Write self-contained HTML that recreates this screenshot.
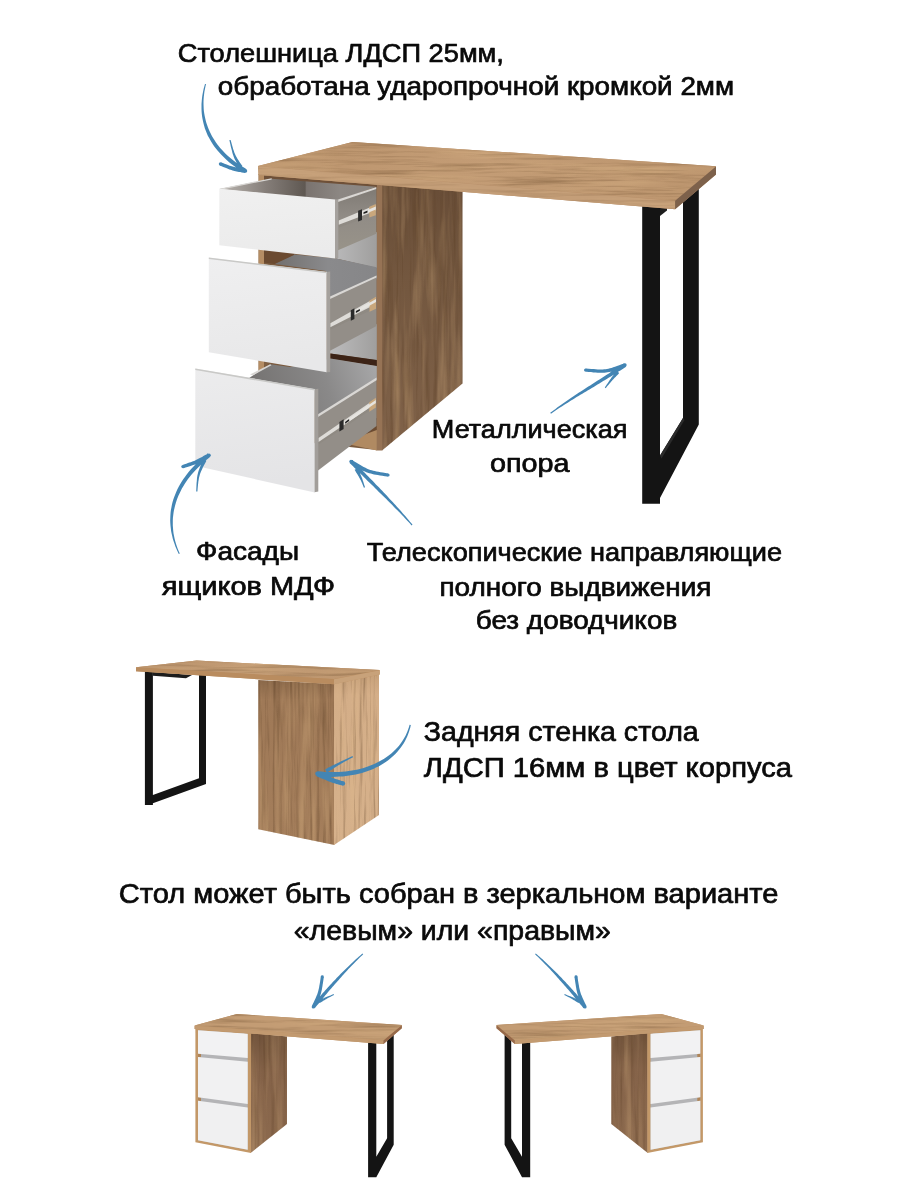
<!DOCTYPE html>
<html lang="ru"><head><meta charset="utf-8"><title>Стол</title>
<style>html,body{margin:0;padding:0;background:#fff}svg{display:block}text{white-space:pre}</style></head>
<body><svg width="900" height="1200" viewBox="0 0 900 1200">
<rect width="900" height="1200" fill="#fff"/>
<defs>
<linearGradient id="gTop" x1="0" y1="0" x2="1" y2="0"><stop offset="0" stop-color="#bb946d"/><stop offset="0.5" stop-color="#c39c75"/><stop offset="1" stop-color="#bc956e"/></linearGradient>
<linearGradient id="gSide" x1="0" y1="0" x2="0" y2="1"><stop offset="0" stop-color="#684d37"/><stop offset="0.35" stop-color="#73573f"/><stop offset="1" stop-color="#806249"/></linearGradient>
<linearGradient id="gBack" x1="0" y1="0" x2="0" y2="1"><stop offset="0" stop-color="#8a6849"/><stop offset="0.12" stop-color="#9f7957"/><stop offset="1" stop-color="#a47e5b"/></linearGradient>
<linearGradient id="gBack2" x1="0" y1="0" x2="0" y2="1"><stop offset="0" stop-color="#c7a17a"/><stop offset="0.12" stop-color="#d4ae88"/><stop offset="1" stop-color="#d6b18b"/></linearGradient>
<linearGradient id="gDr1" x1="0" y1="0" x2="0.15" y2="1"><stop offset="0" stop-color="#f0f0f0"/><stop offset="1" stop-color="#ebebeb"/></linearGradient>
<linearGradient id="gDr2" x1="0" y1="0" x2="0.15" y2="1"><stop offset="0" stop-color="#efeff0"/><stop offset="1" stop-color="#e8e8e9"/></linearGradient>
<linearGradient id="gDr3" x1="0" y1="0" x2="0.15" y2="1"><stop offset="0" stop-color="#ececed"/><stop offset="1" stop-color="#e4e4e6"/></linearGradient>
<linearGradient id="gSideS" x1="0" y1="0" x2="0" y2="1"><stop offset="0" stop-color="#73553d"/><stop offset="0.3" stop-color="#856349"/><stop offset="1" stop-color="#8c6a4e"/></linearGradient>
<linearGradient id="gInt3" gradientUnits="userSpaceOnUse" x1="262" y1="400" x2="376" y2="360"><stop offset="0" stop-color="#767473"/><stop offset="0.55" stop-color="#8a8989"/><stop offset="1" stop-color="#a8a8a9"/></linearGradient>
<linearGradient id="gInt1" gradientUnits="userSpaceOnUse" x1="225" y1="0" x2="376" y2="0"><stop offset="0" stop-color="#b5b0ab"/><stop offset="0.27" stop-color="#857e79"/><stop offset="0.53" stop-color="#5f5852"/><stop offset="0.54" stop-color="#7a736f"/><stop offset="0.76" stop-color="#8c8783"/><stop offset="1" stop-color="#8a8581"/></linearGradient>
<linearGradient id="gWH" gradientUnits="userSpaceOnUse" x1="332" y1="0" x2="376" y2="0"><stop offset="0" stop-color="#bbbbbc"/><stop offset="1" stop-color="#a09f9e"/></linearGradient>
<linearGradient id="gS1" gradientUnits="userSpaceOnUse" x1="0" y1="190" x2="0" y2="250"><stop offset="0" stop-color="#807b75"/><stop offset="0.45" stop-color="#918c86"/><stop offset="1" stop-color="#989389"/></linearGradient>
<linearGradient id="gInt" gradientUnits="userSpaceOnUse" x1="280" y1="0" x2="376" y2="0"><stop offset="0" stop-color="#747271"/><stop offset="0.5" stop-color="#8a8a8c"/><stop offset="1" stop-color="#868688"/></linearGradient>
<filter id="grain" x="0" y="0" width="100%" height="100%" color-interpolation-filters="sRGB"><feTurbulence type="fractalNoise" baseFrequency="0.012 0.3" numOctaves="4" seed="7" result="n"/><feColorMatrix in="n" type="matrix" values="0 0 0 0 0.40  0 0 0 0 0.28  0 0 0 0 0.16  2.4 0 0 0 -1.1"/><feComposite operator="in" in2="SourceGraphic"/></filter>
<filter id="grainL" x="0" y="0" width="100%" height="100%" color-interpolation-filters="sRGB"><feTurbulence type="fractalNoise" baseFrequency="0.009 0.12" numOctaves="3" seed="21" result="n"/><feColorMatrix in="n" type="matrix" values="0 0 0 0 0.92  0 0 0 0 0.78  0 0 0 0 0.58  0 2.4 0 0 -1.1"/><feComposite operator="in" in2="SourceGraphic"/></filter>
<filter id="grainV" x="0" y="0" width="100%" height="100%" color-interpolation-filters="sRGB"><feTurbulence type="fractalNoise" baseFrequency="0.3 0.012" numOctaves="4" seed="3" result="n"/><feColorMatrix in="n" type="matrix" values="0 0 0 0 0.36  0 0 0 0 0.25  0 0 0 0 0.15  2.4 0 0 0 -1.1"/><feComposite operator="in" in2="SourceGraphic"/></filter>
<filter id="grainVL" x="0" y="0" width="100%" height="100%" color-interpolation-filters="sRGB"><feTurbulence type="fractalNoise" baseFrequency="0.12 0.009" numOctaves="3" seed="33" result="n"/><feColorMatrix in="n" type="matrix" values="0 0 0 0 0.9  0 0 0 0 0.75  0 0 0 0 0.55  0 2.4 0 0 -1.1"/><feComposite operator="in" in2="SourceGraphic"/></filter>
</defs>
<polygon points="642.2,205.0 642.2,503.7 660.0,503.7 660.0,498.0 698.8,424.5 698.8,185.0 683.0,185.0 683.0,418.0 660.0,455.5 660.0,205.0" fill="#141414" />
<polygon points="660.0,455.5 683.0,418.0 684.5,420.0 661.5,458.5" fill="#2b2b2b" />
<polygon points="660.0,207.0 667.0,207.0 667.0,210.5 660.0,216.0" fill="#1d1d1d" />
<polygon points="382.0,184.0 462.5,190.0 462.5,383.5 382.0,450.5" fill="url(#gSide)" /><polygon points="382.0,184.0 462.5,190.0 462.5,383.5 382.0,450.5" fill="#000" filter="url(#grainV)" opacity="0.45"/><polygon points="382.0,184.0 462.5,190.0 462.5,383.5 382.0,450.5" fill="#000" filter="url(#grainVL)" opacity="0.33"/>
<polygon points="376.3,184.0 382.3,184.0 382.3,450.5 376.3,450.5" fill="#967355" />
<polygon points="258.6,174.0 376.8,184.0 376.8,450.0 258.6,437.0" fill="#7a5a3e" />
<polygon points="258.6,174.0 264.0,174.5 264.0,437.6 258.6,437.0" fill="#b58d64" />
<polygon points="330.0,436.0 376.8,420.0 376.8,450.5 345.0,443.5" fill="#b08a62" />
<polygon points="330.0,436.0 376.8,418.0 376.8,430.0 347.0,441.0" fill="#6b4b32" />
<polygon points="264.0,175.0 376.8,185.0 376.8,189.0 264.0,181.0" fill="#6e5038" />
<polygon points="219.5,189.0 271.7,178.7 376.0,186.7 337.5,200.8" fill="url(#gInt1)" />
<polygon points="219.5,188.7 271.7,178.2 271.7,179.4 222.0,189.6" fill="#d9d7d4" />
<polygon points="337.0,249.0 376.8,232.0 376.8,268.0 335.0,258.3" fill="url(#gWH)" />
<polygon points="274.5,264.0 294.0,254.5 335.0,258.3 376.8,267.2 376.8,279.0 330.0,300.0 326.0,271.0" fill="url(#gInt)" />
<polygon points="264.0,249.0 294.0,253.0 294.0,255.0 274.5,264.0 264.0,262.5" fill="#6b4a30" />
<polygon points="330.0,349.0 376.8,324.0 376.8,360.2 330.0,353.4" fill="url(#gWH)" />
<polygon points="330.5,353.4 376.8,360.1 376.8,366.2 330.5,358.8" fill="#3c2316" />
<polygon points="246.0,380.0 270.2,364.3 290.0,367.0 330.5,358.6 376.8,366.0 376.8,380.0 318.0,417.5 314.0,394.0" fill="url(#gInt3)" />
<polygon points="250.0,374.4 270.2,364.3 271.5,365.2 253.0,375.2" fill="#d9d7d4" />
<polygon points="264.0,361.0 272.0,362.5 264.0,366.5" fill="#7f5f42" />
<polygon points="338.0,201.5 376.3,188.5 376.3,233.7 338.0,250.2" fill="url(#gS1)" />
<polygon points="338.0,199.6 376.3,187.0 376.3,189.0 338.0,202.0" fill="#d9d7d4" />
<polygon points="338.7,220.4 375.8,204.9 375.8,214.2 338.7,227.4" fill="#8f8a83" /><polygon points="338.7,220.4 375.8,204.9 375.8,210.7 338.7,224.7" fill="#dedcd8" /><polygon points="369.3,206.8 375.8,204.1 375.8,215.2 369.3,217.5" fill="#c9a77c" /><polygon points="362.0,212.2 375.8,206.4 375.8,209.4 362.0,215.2" fill="#e6e4e0" /><polygon points="358.1,210.8 362.0,209.2 362.0,220.1 358.1,221.5" fill="#2a2a2a" /><polygon points="363.5,212.2 367.5,210.6 367.5,212.4 363.5,214.0" fill="#1e1e1e" />
<polygon points="330.0,298.5 376.5,277.3 376.5,326.0 330.0,350.8" fill="#938e88" />
<polygon points="330.0,296.6 376.5,275.4 376.5,277.6 330.0,299.0" fill="#d9d7d4" />
<polygon points="330.3,323.3 376.0,297.6 376.0,307.7 330.3,329.7" fill="#8f8a83" /><polygon points="330.3,323.3 376.0,297.6 376.0,303.9 330.3,327.3" fill="#dedcd8" /><polygon points="369.5,300.5 376.0,296.8 376.0,308.7 369.5,311.8" fill="#c9a77c" /><polygon points="354.4,311.2 376.0,299.1 376.0,302.1 354.4,314.2" fill="#e6e4e0" /><polygon points="350.8,310.3 354.4,308.2 354.4,319.1 350.8,320.8" fill="#2a2a2a" /><polygon points="355.9,311.1 359.9,308.9 359.9,310.7 355.9,312.9" fill="#1e1e1e" />
<polygon points="318.0,416.5 376.5,380.0 376.5,426.0 318.0,470.5" fill="#938e88" />
<polygon points="318.0,414.2 376.5,377.6 376.5,380.3 318.0,417.0" fill="#d9d7d4" />
<polygon points="318.5,438.0 375.8,398.5 375.8,406.5 318.5,444.5" fill="#8f8a83" /><polygon points="318.5,438.0 375.8,398.5 375.8,403.5 318.5,442.0" fill="#dedcd8" /><polygon points="369.3,402.2 375.8,397.7 375.8,407.5 369.3,411.8" fill="#c9a77c" /><polygon points="343.6,422.2 375.8,400.0 375.8,403.0 343.6,425.2" fill="#e6e4e0" /><polygon points="339.4,422.1 343.6,419.2 343.6,428.9 339.4,431.6" fill="#2a2a2a" /><polygon points="345.1,421.9 349.1,419.1 349.1,420.9 345.1,423.7" fill="#1e1e1e" />
<polygon points="219.3,188.7 335.2,199.6 335.2,258.4 219.3,245.3" fill="url(#gDr1)" />
<polygon points="335.0,199.6 338.3,199.3 338.3,257.9 335.0,258.4" fill="#a5a19d" />
<polygon points="208.8,257.7 326.8,272.0 326.8,372.3 208.8,352.2" fill="url(#gDr2)" />
<polygon points="326.6,272.0 330.2,271.6 330.2,371.9 326.6,372.3" fill="#a5a19d" />
<polygon points="195.3,368.6 314.8,389.3 314.8,492.5 195.3,465.8" fill="url(#gDr3)" />
<polygon points="314.6,389.3 318.3,388.7 318.3,491.5 314.6,492.3" fill="#a29e9a" />
<polygon points="208.8,257.5 326.8,271.7 326.8,273.2 208.8,259.0" fill="#c9c9c7" />
<polygon points="195.3,368.4 314.8,388.9 314.8,390.6 195.3,370.0" fill="#c9c9c7" />
<polygon points="258.0,166.0 352.5,142.0 716.0,166.2 716.0,174.6 675.1,209.3 258.6,175.0" fill="#b8906a" />
<polygon points="258.0,166.0 352.5,142.0 716.0,166.2 675.1,200.6" fill="url(#gTop)" /><polygon points="258.0,166.0 352.5,142.0 716.0,166.2 675.1,200.6" fill="#000" filter="url(#grain)" opacity="0.38"/><polygon points="258.0,166.0 352.5,142.0 716.0,166.2 675.1,200.6" fill="#000" filter="url(#grainL)" opacity="0.28"/>
<polygon points="258.0,166.3 675.1,200.9 675.1,209.3 258.6,175.0" fill="#c49e78" /><polygon points="258.0,166.3 675.1,200.9 675.1,209.3 258.6,175.0" fill="#000" filter="url(#grain)" opacity="0.22"/><polygon points="258.0,166.3 675.1,200.9 675.1,209.3 258.6,175.0" fill="#000" filter="url(#grainL)" opacity="0.17"/>
<polygon points="675.1,200.8 716.0,166.4 716.0,174.6 675.1,209.3" fill="#7d614b" />
<polygon points="144.9,670.0 144.9,805.0 152.9,805.0 152.9,803.3 206.0,783.9 206.0,672.0 199.0,672.0 199.0,778.3 152.9,795.0 152.9,670.0" fill="#141414" />
<polygon points="152.9,672.0 192.0,675.0 186.0,678.3 152.9,675.8" fill="#1d1d1d" />
<polygon points="258.3,680.0 334.5,684.0 334.5,845.0 258.3,829.3" fill="url(#gBack)" /><polygon points="258.3,680.0 334.5,684.0 334.5,845.0 258.3,829.3" fill="#000" filter="url(#grainV)" opacity="0.45"/><polygon points="258.3,680.0 334.5,684.0 334.5,845.0 258.3,829.3" fill="#000" filter="url(#grainVL)" opacity="0.33"/>
<polygon points="334.0,684.0 379.0,674.0 379.0,815.0 334.0,845.0" fill="url(#gBack2)" /><polygon points="334.0,684.0 379.0,674.0 379.0,815.0 334.0,845.0" fill="#000" filter="url(#grainV)" opacity="0.38"/><polygon points="334.0,684.0 379.0,674.0 379.0,815.0 334.0,845.0" fill="#000" filter="url(#grainVL)" opacity="0.28"/>
<polygon points="136.0,667.2 196.7,660.6 379.7,670.1 379.7,674.4 334.0,684.2 136.0,671.2" fill="#b98c5f" />
<polygon points="136.0,667.2 196.7,660.6 379.7,670.1 334.0,679.0" fill="url(#gTop)" /><polygon points="136.0,667.2 196.7,660.6 379.7,670.1 334.0,679.0" fill="#000" filter="url(#grain)" opacity="0.38"/><polygon points="136.0,667.2 196.7,660.6 379.7,670.1 334.0,679.0" fill="#000" filter="url(#grainL)" opacity="0.28"/>
<polygon points="136.0,667.4 334.0,679.2 334.0,684.2 136.0,671.2" fill="#b98c5f" />
<polygon points="334.0,679.2 379.7,670.3 379.7,674.4 334.0,684.2" fill="#c8a27a" />
<polygon points="368.1,1040.0 368.1,1177.3 376.3,1177.3 393.7,1144.7 393.7,1030.0 387.1,1030.0 387.1,1138.3 376.3,1156.7 376.3,1040.0" fill="#141414" /><polygon points="250.5,1033.0 287.0,1036.5 287.0,1124.0 250.5,1153.0" fill="url(#gSideS)" /><polygon points="250.5,1033.0 287.0,1036.5 287.0,1124.0 250.5,1153.0" fill="#000" filter="url(#grainV)" opacity="0.38"/><polygon points="250.5,1033.0 287.0,1036.5 287.0,1124.0 250.5,1153.0" fill="#000" filter="url(#grainVL)" opacity="0.28"/><polygon points="195.4,1028.0 251.0,1033.0 251.0,1153.0 195.4,1142.3" fill="#c39868" /><polygon points="198.0,1030.3 247.7,1033.7 247.7,1149.7 198.0,1140.3" fill="#b4b4b6" /><polygon points="198.0,1053.0 201.0,1053.3 201.0,1057.3 198.0,1057.0" fill="#b08558" /><polygon points="198.0,1097.0 201.0,1097.4 201.0,1101.0 198.0,1100.7" fill="#b08558" /><polygon points="198.0,1030.3 247.7,1033.7 247.7,1058.0 198.0,1053.8" fill="#f2f2f3" /><polygon points="198.0,1057.0 247.7,1061.7 247.7,1103.9 198.0,1097.2" fill="#f1f1f2" /><polygon points="198.0,1100.7 247.7,1107.4 247.7,1149.7 198.0,1140.3" fill="#f0f0f1" /><polygon points="194.6,1025.5 237.0,1014.0 401.8,1025.0 401.8,1028.2 383.5,1044.0 194.6,1029.0" fill="#bd9368" /><polygon points="194.6,1025.5 237.0,1014.0 401.8,1025.0 383.5,1040.3" fill="#c39c74" /><polygon points="194.6,1025.5 237.0,1014.0 401.8,1025.0 383.5,1040.3" fill="#000" filter="url(#grain)" opacity="0.34"/><polygon points="194.6,1025.5 237.0,1014.0 401.8,1025.0 383.5,1040.3" fill="#000" filter="url(#grainL)" opacity="0.25"/><polygon points="194.6,1025.7 383.5,1040.5 383.5,1044.0 194.6,1029.0" fill="#c29a70" /><polygon points="383.5,1040.5 401.8,1025.2 401.8,1028.2 383.5,1044.0" fill="#96694a" />
<polygon points="530.2,1040.0 530.2,1177.3 522.0,1177.3 504.6,1144.7 504.6,1030.0 511.2,1030.0 511.2,1138.3 522.0,1156.7 522.0,1040.0" fill="#141414" /><polygon points="647.8,1033.0 611.3,1036.5 611.3,1124.0 647.8,1153.0" fill="url(#gSideS)" /><polygon points="647.8,1033.0 611.3,1036.5 611.3,1124.0 647.8,1153.0" fill="#000" filter="url(#grainV)" opacity="0.38"/><polygon points="647.8,1033.0 611.3,1036.5 611.3,1124.0 647.8,1153.0" fill="#000" filter="url(#grainVL)" opacity="0.28"/><polygon points="702.9,1028.0 647.3,1033.0 647.3,1153.0 702.9,1142.3" fill="#c39868" /><polygon points="700.3,1030.3 650.6,1033.7 650.6,1149.7 700.3,1140.3" fill="#b4b4b6" /><polygon points="700.3,1053.0 697.3,1053.3 697.3,1057.3 700.3,1057.0" fill="#b08558" /><polygon points="700.3,1097.0 697.3,1097.4 697.3,1101.0 700.3,1100.7" fill="#b08558" /><polygon points="700.3,1030.3 650.6,1033.7 650.6,1058.0 700.3,1053.8" fill="#f2f2f3" /><polygon points="700.3,1057.0 650.6,1061.7 650.6,1103.9 700.3,1097.2" fill="#f1f1f2" /><polygon points="700.3,1100.7 650.6,1107.4 650.6,1149.7 700.3,1140.3" fill="#f0f0f1" /><polygon points="703.7,1025.5 661.3,1014.0 496.5,1025.0 496.5,1028.2 514.8,1044.0 703.7,1029.0" fill="#bd9368" /><polygon points="703.7,1025.5 661.3,1014.0 496.5,1025.0 514.8,1040.3" fill="#c39c74" /><polygon points="703.7,1025.5 661.3,1014.0 496.5,1025.0 514.8,1040.3" fill="#000" filter="url(#grain)" opacity="0.34"/><polygon points="703.7,1025.5 661.3,1014.0 496.5,1025.0 514.8,1040.3" fill="#000" filter="url(#grainL)" opacity="0.25"/><polygon points="703.7,1025.7 514.8,1040.5 514.8,1044.0 703.7,1029.0" fill="#c29a70" /><polygon points="514.8,1040.5 496.5,1025.2 496.5,1028.2 514.8,1044.0" fill="#96694a" />
<path d="M205.0,83.9 L204.3,86.4 L203.6,89.0 L203.1,91.5 L202.6,94.0 L202.2,96.5 L201.9,99.1 L201.7,101.6 L201.5,104.1 L201.5,106.6 L201.5,109.0 L201.6,111.5 L201.8,114.0 L202.1,116.4 L202.5,118.8 L203.0,121.3 L203.6,123.7 L204.2,126.0 L204.9,128.4 L205.8,130.7 L206.7,133.1 L207.7,135.4 L208.9,137.6 L210.1,139.8 L211.4,142.0 L212.8,144.2 L214.3,146.4 L215.9,148.5 L217.5,150.6 L219.3,152.6 L221.1,154.6 L223.1,156.6 L225.1,158.6 L227.2,160.5 L229.4,162.4 L231.7,164.2 L234.1,166.0 L236.5,167.8 L239.1,169.5 L241.7,171.2 L244.4,172.8 L246.6,169.2 L243.9,167.6 L241.3,166.0 L238.8,164.4 L236.4,162.7 L234.1,161.0 L231.9,159.3 L229.8,157.5 L227.7,155.7 L225.8,153.9 L223.9,152.0 L222.1,150.1 L220.4,148.2 L218.8,146.2 L217.2,144.2 L215.8,142.2 L214.4,140.1 L213.1,138.1 L211.9,136.0 L210.8,133.8 L209.8,131.7 L208.8,129.5 L207.9,127.3 L207.1,125.1 L206.4,122.9 L205.7,120.6 L205.2,118.3 L204.7,116.0 L204.3,113.7 L203.9,111.3 L203.7,108.9 L203.6,106.5 L203.5,104.1 L203.5,101.7 L203.6,99.2 L203.8,96.7 L204.1,94.2 L204.4,91.7 L204.9,89.2 L205.4,86.7 L206.0,84.1Z M219.9,165.6 L221.6,166.3 L223.3,167.0 L224.7,167.6 L226.1,168.1 L227.3,168.6 L228.4,169.0 L229.5,169.4 L230.5,169.8 L231.5,170.1 L232.5,170.4 L233.5,170.7 L234.5,170.9 L235.5,171.2 L236.6,171.4 L237.7,171.7 L239.0,171.9 L240.3,172.1 L241.8,172.4 L243.4,172.7 L245.2,173.0 L245.8,169.0 L244.0,168.8 L242.4,168.5 L241.0,168.3 L239.6,168.1 L238.4,167.9 L237.3,167.7 L236.3,167.5 L235.3,167.3 L234.4,167.1 L233.5,166.8 L232.6,166.6 L231.7,166.3 L230.7,166.0 L229.7,165.7 L228.5,165.3 L227.3,164.8 L226.0,164.3 L224.5,163.7 L222.9,163.1 L221.1,162.4Z M229.4,140.1 L229.9,142.4 L230.4,144.5 L230.8,146.4 L231.2,148.1 L231.6,149.6 L232.0,151.1 L232.3,152.4 L232.6,153.6 L233.0,154.7 L233.4,155.8 L233.7,156.8 L234.2,157.9 L234.6,158.9 L235.2,160.0 L235.7,161.1 L236.4,162.2 L237.1,163.5 L237.8,164.8 L238.7,166.3 L239.6,167.9 L242.4,166.1 L241.3,164.6 L240.4,163.2 L239.5,161.9 L238.8,160.8 L238.1,159.7 L237.4,158.7 L236.9,157.8 L236.3,156.8 L235.9,155.9 L235.4,155.0 L235.0,154.0 L234.5,152.9 L234.1,151.8 L233.7,150.6 L233.2,149.2 L232.8,147.7 L232.3,146.0 L231.8,144.2 L231.2,142.1 L230.6,139.9Z" fill="#4385b4"/><circle cx="220.5" cy="164.0" r="1.71" fill="#4385b4"/><circle cx="245.5" cy="171.0" r="1.76" fill="#4385b4"/>
<path d="M551.0,413.8 L552.7,412.5 L554.5,411.3 L556.3,410.1 L558.1,408.8 L560.0,407.6 L561.8,406.4 L563.6,405.2 L565.5,404.1 L567.3,402.9 L569.2,401.7 L571.0,400.6 L572.9,399.4 L574.8,398.3 L576.6,397.1 L578.5,396.0 L580.4,394.8 L582.3,393.7 L584.2,392.6 L586.1,391.4 L588.0,390.3 L589.9,389.2 L591.8,388.0 L593.7,386.9 L595.6,385.7 L597.5,384.6 L599.4,383.4 L601.3,382.3 L603.2,381.1 L605.1,379.9 L607.1,378.8 L609.0,377.6 L610.9,376.4 L612.8,375.2 L614.7,374.0 L616.6,372.8 L618.5,371.6 L620.4,370.4 L622.3,369.2 L624.2,367.9 L626.1,366.7 L623.9,363.3 L622.0,364.6 L620.2,365.9 L618.3,367.2 L616.4,368.4 L614.6,369.7 L612.7,370.9 L610.8,372.1 L608.9,373.4 L607.1,374.6 L605.2,375.8 L603.3,377.0 L601.4,378.2 L599.5,379.4 L597.7,380.6 L595.8,381.8 L593.9,383.0 L592.0,384.2 L590.2,385.4 L588.3,386.6 L586.4,387.8 L584.6,389.0 L582.7,390.2 L580.8,391.4 L579.0,392.6 L577.2,393.8 L575.3,395.0 L573.5,396.3 L571.6,397.5 L569.8,398.7 L568.0,400.0 L566.2,401.2 L564.4,402.5 L562.6,403.7 L560.8,405.0 L559.0,406.3 L557.2,407.6 L555.5,408.9 L553.7,410.2 L552.0,411.5 L550.2,412.8Z M585.4,371.6 L588.4,371.9 L591.0,372.1 L593.4,372.4 L595.6,372.5 L597.6,372.7 L599.5,372.8 L601.2,372.8 L602.9,372.8 L604.5,372.7 L606.0,372.6 L607.6,372.3 L609.2,372.1 L610.8,371.7 L612.5,371.2 L614.2,370.7 L616.1,370.1 L618.2,369.4 L620.4,368.6 L622.9,367.7 L625.6,366.7 L624.4,363.3 L621.7,364.3 L619.2,365.2 L617.0,366.0 L615.0,366.7 L613.2,367.3 L611.5,367.9 L609.9,368.3 L608.4,368.7 L607.0,369.0 L605.6,369.2 L604.2,369.3 L602.7,369.4 L601.2,369.5 L599.6,369.5 L597.8,369.4 L595.8,369.3 L593.7,369.1 L591.3,368.9 L588.7,368.7 L585.8,368.4Z M605.8,388.2 L606.6,387.1 L607.4,386.1 L608.1,385.2 L608.8,384.4 L609.4,383.7 L610.0,383.0 L610.5,382.4 L611.0,381.8 L611.5,381.2 L612.0,380.7 L612.5,380.1 L613.1,379.5 L613.6,378.9 L614.2,378.3 L614.9,377.6 L615.6,376.9 L616.4,376.1 L617.2,375.2 L618.2,374.2 L619.2,373.1 L616.8,370.9 L615.8,372.1 L615.0,373.2 L614.2,374.2 L613.5,375.0 L612.8,375.9 L612.3,376.6 L611.7,377.3 L611.2,378.0 L610.8,378.7 L610.3,379.3 L609.9,379.9 L609.4,380.6 L609.0,381.2 L608.5,381.9 L608.0,382.7 L607.5,383.5 L606.9,384.3 L606.3,385.3 L605.6,386.3 L604.8,387.4Z" fill="#4385b4"/><circle cx="585.6" cy="370.0" r="1.57" fill="#4385b4"/><circle cx="625.0" cy="365.0" r="1.68" fill="#4385b4"/>
<path d="M179.8,553.6 L178.6,551.0 L177.6,548.5 L176.7,545.9 L175.9,543.4 L175.1,540.8 L174.5,538.3 L174.0,535.7 L173.5,533.2 L173.2,530.6 L173.0,528.1 L172.8,525.5 L172.8,523.0 L172.8,520.5 L172.9,518.0 L173.2,515.5 L173.5,513.0 L173.9,510.5 L174.5,508.0 L175.1,505.5 L175.8,503.1 L176.6,500.6 L177.4,498.2 L178.4,495.8 L179.5,493.4 L180.7,490.9 L181.9,488.6 L183.3,486.2 L184.8,483.8 L186.3,481.5 L188.0,479.1 L189.8,476.8 L191.6,474.5 L193.6,472.2 L195.7,470.0 L197.9,467.7 L200.1,465.5 L202.5,463.3 L205.0,461.1 L207.6,459.0 L210.3,456.8 L207.7,453.6 L205.0,455.8 L202.3,458.0 L199.8,460.3 L197.3,462.6 L195.0,464.9 L192.8,467.3 L190.7,469.6 L188.6,472.0 L186.7,474.4 L184.9,476.9 L183.2,479.3 L181.6,481.8 L180.1,484.3 L178.7,486.8 L177.4,489.3 L176.2,491.9 L175.2,494.4 L174.2,497.0 L173.3,499.6 L172.5,502.2 L171.9,504.8 L171.4,507.4 L170.9,510.0 L170.6,512.6 L170.4,515.2 L170.3,517.8 L170.2,520.5 L170.3,523.1 L170.5,525.7 L170.8,528.3 L171.1,530.9 L171.6,533.5 L172.2,536.1 L172.8,538.7 L173.6,541.3 L174.5,543.8 L175.4,546.4 L176.5,548.9 L177.6,551.5 L178.8,554.0Z M183.5,468.2 L185.5,467.6 L187.4,467.0 L189.0,466.5 L190.5,466.0 L191.9,465.5 L193.1,465.1 L194.3,464.7 L195.4,464.3 L196.5,463.8 L197.5,463.4 L198.5,463.0 L199.5,462.5 L200.6,462.0 L201.6,461.5 L202.8,460.9 L204.0,460.3 L205.3,459.5 L206.7,458.8 L208.3,457.9 L210.0,456.9 L208.0,453.5 L206.3,454.4 L204.8,455.3 L203.4,456.1 L202.1,456.9 L200.9,457.5 L199.9,458.1 L198.8,458.6 L197.9,459.1 L196.9,459.6 L196.0,460.0 L195.1,460.4 L194.1,460.9 L193.0,461.3 L191.9,461.7 L190.7,462.2 L189.4,462.6 L187.9,463.1 L186.3,463.7 L184.5,464.3 L182.5,465.0Z M197.4,491.5 L197.6,489.0 L197.8,486.8 L198.0,484.8 L198.2,482.9 L198.4,481.3 L198.7,479.7 L198.9,478.3 L199.2,477.1 L199.5,475.9 L199.8,474.7 L200.2,473.6 L200.6,472.5 L201.0,471.4 L201.6,470.2 L202.2,468.9 L202.8,467.6 L203.6,466.1 L204.4,464.5 L205.4,462.7 L206.4,460.7 L203.6,459.3 L202.6,461.3 L201.8,463.1 L201.0,464.8 L200.3,466.4 L199.7,467.8 L199.2,469.2 L198.7,470.5 L198.3,471.7 L198.0,472.9 L197.7,474.2 L197.4,475.4 L197.2,476.7 L197.0,478.1 L196.9,479.5 L196.8,481.1 L196.6,482.8 L196.5,484.6 L196.4,486.7 L196.3,489.0 L196.2,491.5Z" fill="#4385b4"/><circle cx="183.0" cy="466.6" r="1.71" fill="#4385b4"/><circle cx="209.0" cy="455.2" r="1.76" fill="#4385b4"/>
<path d="M412.5,524.6 L411.1,523.0 L409.8,521.4 L408.4,519.8 L407.1,518.2 L405.7,516.6 L404.3,515.0 L402.9,513.4 L401.5,511.7 L400.0,510.1 L398.6,508.5 L397.1,506.9 L395.7,505.3 L394.2,503.7 L392.7,502.1 L391.2,500.5 L389.7,498.9 L388.2,497.2 L386.7,495.6 L385.2,494.0 L383.7,492.4 L382.2,490.8 L380.6,489.2 L379.1,487.6 L377.5,486.0 L375.9,484.4 L374.4,482.7 L372.8,481.1 L371.2,479.5 L369.7,477.9 L368.1,476.3 L366.5,474.7 L365.0,473.1 L363.4,471.5 L361.8,469.8 L360.2,468.2 L358.7,466.6 L357.1,465.0 L355.5,463.4 L354.0,461.7 L352.4,460.1 L349.6,462.9 L351.2,464.5 L352.8,466.1 L354.4,467.7 L356.0,469.3 L357.6,470.9 L359.2,472.4 L360.8,474.0 L362.4,475.6 L364.0,477.2 L365.6,478.8 L367.2,480.4 L368.8,481.9 L370.4,483.5 L372.0,485.1 L373.6,486.6 L375.2,488.2 L376.8,489.8 L378.4,491.4 L380.0,492.9 L381.6,494.5 L383.1,496.0 L384.7,497.6 L386.3,499.1 L387.9,500.7 L389.4,502.2 L391.0,503.8 L392.5,505.3 L394.0,506.9 L395.5,508.4 L397.1,510.0 L398.6,511.5 L400.1,513.0 L401.5,514.6 L403.0,516.1 L404.5,517.7 L405.9,519.2 L407.3,520.8 L408.8,522.3 L410.2,523.8 L411.5,525.4Z M388.2,473.4 L385.4,473.0 L382.8,472.5 L380.5,472.2 L378.4,471.8 L376.5,471.4 L374.8,471.1 L373.2,470.7 L371.7,470.3 L370.3,469.9 L369.0,469.4 L367.7,468.9 L366.3,468.3 L365.0,467.6 L363.6,466.9 L362.0,466.0 L360.4,465.1 L358.6,464.0 L356.6,462.8 L354.4,461.4 L352.0,459.9 L350.0,463.1 L352.4,464.6 L354.7,465.9 L356.7,467.1 L358.5,468.2 L360.2,469.2 L361.9,470.1 L363.4,470.9 L364.9,471.5 L366.3,472.2 L367.8,472.7 L369.2,473.2 L370.8,473.6 L372.4,474.0 L374.0,474.4 L375.9,474.8 L377.8,475.1 L380.0,475.4 L382.3,475.8 L384.9,476.2 L387.8,476.6Z M365.1,487.3 L364.6,485.9 L364.2,484.7 L363.8,483.5 L363.5,482.5 L363.2,481.6 L362.9,480.7 L362.6,479.9 L362.4,479.1 L362.1,478.3 L361.8,477.6 L361.5,476.9 L361.2,476.1 L360.9,475.4 L360.5,474.6 L360.1,473.7 L359.7,472.8 L359.2,471.8 L358.7,470.7 L358.1,469.5 L357.4,468.2 L354.6,469.8 L355.4,471.0 L356.0,472.2 L356.7,473.2 L357.2,474.1 L357.8,475.0 L358.2,475.8 L358.7,476.5 L359.1,477.2 L359.4,477.9 L359.8,478.5 L360.2,479.2 L360.5,479.9 L360.9,480.6 L361.2,481.3 L361.6,482.2 L362.0,483.1 L362.4,484.1 L362.9,485.2 L363.4,486.4 L363.9,487.7Z" fill="#4385b4"/><circle cx="388.0" cy="475.0" r="1.62" fill="#4385b4"/><circle cx="351.0" cy="461.5" r="1.68" fill="#4385b4"/>
<path d="M409.6,724.7 L409.0,727.0 L408.2,729.3 L407.4,731.6 L406.4,733.8 L405.4,736.0 L404.2,738.1 L403.0,740.1 L401.7,742.1 L400.3,744.1 L398.8,746.0 L397.2,747.8 L395.5,749.6 L393.7,751.3 L391.9,753.0 L390.0,754.6 L388.0,756.1 L385.9,757.6 L383.7,759.0 L381.4,760.3 L379.1,761.6 L376.7,762.8 L374.3,764.0 L371.7,765.1 L369.1,766.1 L366.4,767.1 L363.6,767.9 L360.8,768.7 L357.9,769.4 L354.9,770.1 L351.8,770.6 L348.7,771.1 L345.5,771.5 L342.2,771.8 L338.9,772.0 L335.5,772.1 L332.0,772.1 L328.5,772.0 L324.9,771.9 L321.3,771.6 L317.5,771.2 L317.1,776.2 L320.9,776.5 L324.7,776.7 L328.4,776.9 L332.0,776.9 L335.6,776.8 L339.1,776.6 L342.6,776.4 L346.0,776.0 L349.3,775.6 L352.6,775.0 L355.8,774.4 L358.9,773.7 L361.9,772.9 L364.9,772.0 L367.8,771.0 L370.6,770.0 L373.3,768.9 L375.9,767.6 L378.5,766.4 L381.0,765.0 L383.4,763.6 L385.7,762.0 L387.9,760.4 L390.0,758.8 L392.0,757.1 L394.0,755.3 L395.8,753.4 L397.6,751.5 L399.2,749.6 L400.8,747.6 L402.2,745.5 L403.6,743.4 L404.9,741.2 L406.0,739.0 L407.1,736.8 L408.0,734.5 L408.9,732.1 L409.6,729.8 L410.3,727.4 L410.8,724.9Z M343.6,781.4 L341.9,780.9 L340.4,780.4 L339.0,780.0 L337.7,779.6 L336.5,779.2 L335.4,778.9 L334.4,778.5 L333.5,778.2 L332.5,777.8 L331.6,777.5 L330.7,777.1 L329.7,776.7 L328.7,776.2 L327.6,775.7 L326.4,775.2 L325.1,774.6 L323.6,773.9 L322.1,773.2 L320.3,772.3 L318.4,771.4 L316.2,776.0 L318.2,776.9 L320.0,777.7 L321.6,778.4 L323.1,779.0 L324.4,779.6 L325.7,780.1 L326.8,780.6 L327.9,781.1 L328.9,781.5 L330.0,781.8 L331.0,782.2 L332.0,782.5 L333.0,782.9 L334.1,783.2 L335.2,783.5 L336.4,783.9 L337.7,784.3 L339.1,784.7 L340.7,785.1 L342.4,785.6Z M352.5,756.0 L350.4,757.0 L348.4,757.9 L346.7,758.7 L345.1,759.5 L343.6,760.2 L342.3,760.8 L341.1,761.3 L339.9,761.9 L338.8,762.4 L337.8,762.9 L336.7,763.4 L335.7,763.9 L334.7,764.4 L333.6,764.9 L332.4,765.5 L331.2,766.2 L329.9,766.9 L328.4,767.6 L326.8,768.5 L325.1,769.4 L326.9,772.6 L328.6,771.5 L330.1,770.6 L331.5,769.7 L332.8,768.9 L333.9,768.1 L335.0,767.5 L336.0,766.8 L337.0,766.2 L338.0,765.6 L338.9,765.0 L339.9,764.4 L340.9,763.8 L342.0,763.2 L343.2,762.5 L344.5,761.8 L345.9,761.1 L347.4,760.2 L349.1,759.3 L351.0,758.3 L353.1,757.2Z" fill="#4385b4"/><circle cx="343.0" cy="783.5" r="2.16" fill="#4385b4"/><circle cx="317.3" cy="773.7" r="2.10" fill="#4385b4"/>
<path d="M362.6,953.4 L361.3,954.5 L360.0,955.7 L358.7,956.8 L357.4,958.0 L356.1,959.1 L354.8,960.3 L353.5,961.5 L352.2,962.7 L350.9,964.0 L349.6,965.2 L348.3,966.4 L347.0,967.7 L345.7,968.9 L344.4,970.2 L343.1,971.5 L341.8,972.8 L340.5,974.1 L339.2,975.4 L337.9,976.7 L336.6,978.0 L335.4,979.4 L334.1,980.7 L332.8,982.1 L331.6,983.4 L330.3,984.8 L329.0,986.2 L327.8,987.6 L326.5,988.9 L325.3,990.3 L324.1,991.7 L322.8,993.1 L321.6,994.5 L320.3,995.9 L319.1,997.3 L317.9,998.7 L316.7,1000.1 L315.5,1001.6 L314.2,1003.0 L313.0,1004.4 L311.8,1005.8 L314.8,1008.2 L315.9,1006.8 L317.1,1005.3 L318.3,1003.9 L319.4,1002.5 L320.6,1001.0 L321.8,999.6 L323.0,998.2 L324.2,996.7 L325.3,995.3 L326.5,993.9 L327.7,992.5 L328.9,991.1 L330.2,989.6 L331.4,988.2 L332.6,986.8 L333.8,985.4 L335.0,984.1 L336.2,982.7 L337.5,981.3 L338.7,979.9 L339.9,978.5 L341.1,977.2 L342.3,975.8 L343.5,974.5 L344.8,973.1 L346.0,971.8 L347.2,970.5 L348.4,969.1 L349.7,967.8 L350.9,966.5 L352.1,965.2 L353.4,964.0 L354.6,962.7 L355.8,961.4 L357.1,960.2 L358.3,959.0 L359.5,957.7 L360.8,956.5 L362.0,955.4 L363.2,954.2Z M320.8,976.5 L320.5,978.8 L320.2,980.9 L319.9,982.8 L319.6,984.5 L319.3,986.1 L319.1,987.5 L318.8,988.8 L318.5,990.0 L318.2,991.2 L317.9,992.3 L317.6,993.3 L317.2,994.4 L316.7,995.5 L316.2,996.7 L315.7,998.0 L315.1,999.3 L314.4,1000.8 L313.6,1002.5 L312.7,1004.3 L311.7,1006.3 L314.9,1007.7 L315.8,1005.7 L316.7,1003.9 L317.4,1002.3 L318.1,1000.7 L318.7,999.3 L319.3,998.0 L319.8,996.7 L320.2,995.5 L320.6,994.4 L321.0,993.2 L321.3,992.0 L321.6,990.7 L321.9,989.4 L322.1,988.1 L322.4,986.6 L322.6,985.0 L322.9,983.3 L323.2,981.3 L323.5,979.2 L323.8,976.9Z M333.6,994.1 L332.5,994.6 L331.4,995.0 L330.5,995.4 L329.7,995.7 L328.9,996.0 L328.2,996.3 L327.5,996.5 L326.9,996.8 L326.3,997.0 L325.7,997.3 L325.1,997.5 L324.5,997.8 L323.9,998.1 L323.3,998.4 L322.6,998.7 L321.9,999.0 L321.1,999.4 L320.3,999.9 L319.4,1000.3 L318.4,1000.9 L319.6,1003.1 L320.6,1002.5 L321.5,1002.0 L322.3,1001.5 L323.0,1001.0 L323.7,1000.6 L324.3,1000.2 L324.9,999.9 L325.4,999.5 L326.0,999.2 L326.5,998.9 L327.0,998.6 L327.6,998.3 L328.2,997.9 L328.8,997.6 L329.5,997.3 L330.2,996.9 L331.0,996.5 L331.9,996.1 L332.9,995.6 L334.0,995.1Z" fill="#4385b4"/><circle cx="322.3" cy="976.7" r="1.48" fill="#4385b4"/><circle cx="313.3" cy="1007.0" r="1.60" fill="#4385b4"/>
<path d="M535.1,954.2 L536.3,955.4 L537.5,956.5 L538.8,957.7 L540.0,959.0 L541.2,960.2 L542.5,961.4 L543.7,962.7 L544.9,964.0 L546.2,965.2 L547.4,966.5 L548.6,967.8 L549.9,969.1 L551.1,970.5 L552.3,971.8 L553.5,973.1 L554.8,974.5 L556.0,975.8 L557.2,977.2 L558.4,978.5 L559.6,979.9 L560.8,981.3 L562.1,982.7 L563.3,984.1 L564.5,985.4 L565.7,986.8 L566.9,988.2 L568.1,989.6 L569.4,991.1 L570.6,992.5 L571.8,993.9 L573.0,995.3 L574.1,996.7 L575.3,998.2 L576.5,999.6 L577.7,1001.0 L578.9,1002.5 L580.0,1003.9 L581.2,1005.3 L582.4,1006.8 L583.5,1008.2 L586.5,1005.8 L585.3,1004.4 L584.1,1003.0 L582.8,1001.6 L581.6,1000.1 L580.4,998.7 L579.2,997.3 L578.0,995.9 L576.7,994.5 L575.5,993.1 L574.2,991.7 L573.0,990.3 L571.8,988.9 L570.5,987.6 L569.3,986.2 L568.0,984.8 L566.7,983.4 L565.5,982.1 L564.2,980.7 L562.9,979.4 L561.7,978.0 L560.4,976.7 L559.1,975.4 L557.8,974.1 L556.5,972.8 L555.2,971.5 L553.9,970.2 L552.6,968.9 L551.3,967.7 L550.0,966.4 L548.7,965.2 L547.4,964.0 L546.1,962.7 L544.8,961.5 L543.5,960.3 L542.2,959.1 L540.9,958.0 L539.6,956.8 L538.3,955.7 L537.0,954.5 L535.7,953.4Z M574.5,976.9 L574.8,979.2 L575.1,981.3 L575.4,983.3 L575.7,985.0 L575.9,986.6 L576.2,988.1 L576.4,989.4 L576.7,990.7 L577.0,992.0 L577.3,993.2 L577.7,994.4 L578.1,995.5 L578.5,996.7 L579.0,998.0 L579.6,999.3 L580.2,1000.7 L580.9,1002.3 L581.6,1003.9 L582.5,1005.7 L583.4,1007.7 L586.6,1006.3 L585.6,1004.3 L584.7,1002.5 L583.9,1000.8 L583.2,999.3 L582.6,998.0 L582.1,996.7 L581.6,995.5 L581.1,994.4 L580.7,993.3 L580.4,992.3 L580.1,991.2 L579.8,990.0 L579.5,988.8 L579.2,987.5 L579.0,986.1 L578.7,984.5 L578.4,982.8 L578.1,980.9 L577.8,978.8 L577.5,976.5Z M564.3,995.1 L565.4,995.6 L566.4,996.1 L567.3,996.5 L568.1,996.9 L568.8,997.3 L569.5,997.6 L570.1,997.9 L570.7,998.3 L571.3,998.6 L571.8,998.9 L572.3,999.2 L572.9,999.5 L573.4,999.9 L574.0,1000.2 L574.6,1000.6 L575.3,1001.0 L576.0,1001.5 L576.8,1002.0 L577.7,1002.5 L578.7,1003.1 L579.9,1000.9 L578.9,1000.3 L578.0,999.9 L577.2,999.4 L576.4,999.0 L575.7,998.7 L575.0,998.4 L574.4,998.1 L573.8,997.8 L573.2,997.5 L572.6,997.3 L572.0,997.0 L571.4,996.8 L570.8,996.5 L570.1,996.3 L569.4,996.0 L568.6,995.7 L567.8,995.4 L566.9,995.0 L565.8,994.6 L564.7,994.1Z" fill="#4385b4"/><circle cx="576.0" cy="976.7" r="1.48" fill="#4385b4"/><circle cx="585.0" cy="1007.0" r="1.60" fill="#4385b4"/>
<g opacity="0.995" font-family="'Liberation Sans', sans-serif" fill="#0a0a0a" stroke="#0a0a0a" stroke-width="0.7" stroke-linejoin="round"><text x="177.8" y="62.0" font-size="25.6" textLength="326.1" lengthAdjust="spacingAndGlyphs">Столешница ЛДСП 25мм,</text><text x="217.8" y="94.9" font-size="25.6" textLength="516.3" lengthAdjust="spacingAndGlyphs">обработана ударопрочной кромкой 2мм</text><text x="431.8" y="438.2" font-size="25.6" textLength="195.6" lengthAdjust="spacingAndGlyphs">Металлическая</text><text x="490.0" y="471.5" font-size="25.6" textLength="79.6" lengthAdjust="spacingAndGlyphs">опора</text><text x="196.1" y="560.0" font-size="25.6" textLength="103.0" lengthAdjust="spacingAndGlyphs">Фасады</text><text x="161.8" y="595.0" font-size="25.6" textLength="173.3" lengthAdjust="spacingAndGlyphs">ящиков МДФ</text><text x="366.8" y="561.0" font-size="25.6" textLength="415.2" lengthAdjust="spacingAndGlyphs">Телескопические направляющие</text><text x="439.5" y="595.6" font-size="25.6" textLength="271.9" lengthAdjust="spacingAndGlyphs">полного выдвижения</text><text x="475.8" y="629.0" font-size="25.6" textLength="201.4" lengthAdjust="spacingAndGlyphs">без доводчиков</text><text x="423.8" y="741.0" font-size="27.4" textLength="274.9" lengthAdjust="spacingAndGlyphs">Задняя стенка стола</text><text x="423.8" y="776.7" font-size="27.4" textLength="368.2" lengthAdjust="spacingAndGlyphs">ЛДСП 16мм в цвет корпуса</text><text x="118.8" y="903.0" font-size="27.4" textLength="659.6" lengthAdjust="spacingAndGlyphs">Стол может быть собран в зеркальном варианте</text><text x="293.8" y="940.0" font-size="27.4" textLength="317.1" lengthAdjust="spacingAndGlyphs">«левым» или «правым»</text></g>
</svg></body></html>
